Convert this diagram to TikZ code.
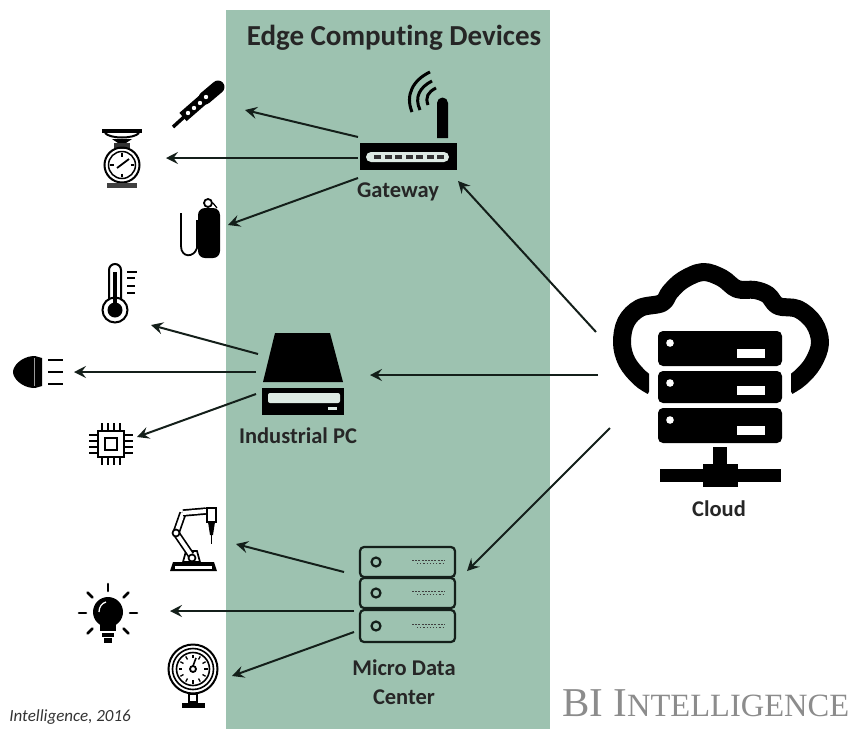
\documentclass[tikz,border=0pt]{standalone}
\usepackage{fontspec}
\setmainfont[Ligatures=NoCommon]{Carlito}
\newfontfamily\biserif{Liberation Serif}
\usetikzlibrary{arrows.meta}
\definecolor{panelgreen}{HTML}{9DC2B0}
\definecolor{inkdark}{HTML}{141F1A}
\definecolor{bigray}{HTML}{8C8C8C}
\tikzset{
  conn/.style={draw=inkdark,line width=2pt,-{Stealth[length=12pt,width=12pt,inset=4.5pt]}},
  lab/.style={font=\fontsize{22.5}{24}\selectfont\bfseries,text=black!85,inner sep=0pt,align=center},
  blk/.style={fill=black,draw=none},
  wht/.style={fill=white,draw=none},
  pale/.style={fill=panelgreen!35!white,draw=none},
  hollow/.style={draw=black,line width=1.7pt,double=white,double distance=4pt},
  bar/.style={draw=black,line width=2.6pt}
}
\begin{document}
\begin{tikzpicture}[x=1pt,y=-1pt]
\useasboundingbox (0,0) rectangle (854,729);
\fill[panelgreen] (226,10) rectangle (550,729);
\node[lab,font=\fontsize{29}{30}\selectfont\bfseries] (title) at (394,38) {Edge Computing Devices};

% ---- gateway
\fill[blk] (437,138) -- (437,103) arc[start angle=180,end angle=360,radius=5.5] -- (448,138) -- cycle;
\fill[blk] (360,143) rectangle (457,170);
\fill[pale,rounded corners=5pt] (366,152) rectangle (449,162);
\foreach \i in {0,...,6} \fill[black!80] (374+\i*10.5,155) rectangle ++(7,4);
\draw[line width=3pt] (412,112) .. controls (405,95) and (413,80) .. (430,72);
\draw[line width=3pt] (420,110) .. controls (414,97) and (420,87) .. (432,81);
\draw[line width=3pt] (428,105) .. controls (425,97) and (428,92) .. (436,88);
\node[lab] (gateway) at (398,192) {Gateway};

% ---- industrial pc
\fill[blk] (275,333) -- (330,333) -- (343,382) -- (263,382) -- cycle;
\fill[blk] (262,388) rectangle (344,415);
\fill[pale,rounded corners=2pt] (268,393) rectangle (340,403);
\fill[pale] (328,407) rectangle (337,410);
\node[lab] (ipc) at (298,436) {Industrial PC};

% ---- micro data center
\foreach \t/\b in {547/577,578/608,610/642}{
  \draw[line width=2.2pt,draw=inkdark,rounded corners=4pt] (360,\t) rectangle (455,\b);
  \draw[line width=2.2pt,draw=inkdark] (376,{(\t+\b)/2}) circle[radius=4.5];
  \draw[line width=1pt,draw=black!75,dash pattern=on 2pt off 1.2pt] (412,{(\t+\b)/2-1.5}) -- (445,{(\t+\b)/2-1.5});
  \draw[line width=1pt,draw=black!75,dash pattern=on 1.2pt off 2pt] (417,{(\t+\b)/2+1}) -- (445,{(\t+\b)/2+1});
}
\node[lab] (mdc) at (404,682) {Micro Data\\[5pt]Center};

% ---- cloud
\begin{scope}
\clip (0,0) rectangle (854,340) (0,340) rectangle (649,400) (791,340) rectangle (854,400);
\draw[line width=18pt,line join=round] plot[smooth,tension=0.6] coordinates {(652,386) (640,378) (627,362) (622,343) (626,322) (640,308) (662,303) (670,292) (683,280) (703,272) (722,278) (737,289) (755,290) (768,295) (778,306) (798,309) (814,323) (820,343) (813,363) (800,378) (788,386)};
\end{scope}
\foreach \t/\b in {331/366,371/403,408/443}{
  \fill[blk,rounded corners=5pt] (658,\t) rectangle (782,\b);
  \fill[wht] (670,\t+12) circle[radius=3.8];
  \fill[wht] (737,\b-17) rectangle (765,\b-8);
}
\fill[blk] (713,447) rectangle (727,467);
\fill[blk] (660,469) rectangle (781,482);
\fill[blk] (703,464) rectangle (738,487);
\node[lab] (cloud) at (719,509) {Cloud};

% ---- pen
\draw[line width=3.5pt] (173,127) -- (184,117);
\draw[line width=11pt] (183,117) -- (206,97);
\draw[line width=13pt,line cap=round] (205,98) -- (218,87);
\foreach \x/\y in {188/113,194/108,200/103,206/97} \fill[white] (\x,\y) circle[radius=2.2];

% ---- scale
\fill[blk] (102,129) rectangle (142,132.5);
\draw[line width=2pt] (105,133) .. controls (110,139) and (134,139) .. (139,133);
\fill[blk] (112,139) -- (132,139) -- (126,143) -- (118,143) -- cycle;
\fill[black!80] (114,143) rectangle (130,149);
\draw[line width=2pt] (122,165) circle[radius=17.5];
\draw[line width=1.5pt] (122,165) circle[radius=13.5];
\draw[line width=1.8pt] (117,168) -- (129,159);
\foreach \a in {0,90,180,270} \draw[line width=1.5pt] (122,165)+(\a:8.5) -- +(\a:12);
\fill[black!75] (107,183) rectangle (137,188);

% ---- tank
\fill[blk,rounded corners=7pt] (198,208) rectangle (220,258);
\draw[line width=1.8pt] (208,203) circle[radius=4];
\draw[line width=1.8pt] (181,213) -- (181,246) .. controls (181,258) and (194,258) .. (197,248) -- (197,220);
\draw[line width=1.2pt] (213,203) -- (217,208);

% ---- thermometer
\draw[line width=2pt] (109,300) -- (109,270) arc[start angle=180,end angle=360,radius=6] -- (121,300);
\draw[line width=2pt] (115,310) circle[radius=12.5];
\fill[blk] (115,310) circle[radius=7.5];
\fill[blk] (113,272) rectangle (117,305);
\foreach \y/\e in {272/137,278/135,286/135,293/135} \draw[line width=2.2pt] (127,\y) -- (\e,\y);

% ---- indicator lamp
\fill[blk] (33,356) .. controls (21,357) and (13,366) .. (13,372) .. controls (13,378) and (21,387) .. (33,388) -- cycle;
\fill[blk] (35,356) -- (42,358) -- (42,386) -- (35,388) -- cycle;
\fill[blk] (33,356) rectangle (35,388);
\draw[black!40,line width=0.7pt] (34,358) -- (34,386);
\foreach \y in {360,372,384} \draw[bar] (48,\y) -- (63,\y);

% ---- chip
\draw[line width=2.4pt] (98,431) rectangle (124,457);
\draw[line width=2.8pt] (105,438) rectangle (117,450);
\foreach \d in {-9,-3,3,9}{
  \draw[line width=1.7pt] (111+\d,423) -- (111+\d,430);
  \draw[line width=1.7pt] (111+\d,458) -- (111+\d,465);
  \draw[line width=1.7pt] (89,444+\d) -- (97,444+\d);
  \draw[line width=1.7pt] (125,444+\d) -- (133,444+\d);
}

% ---- robot
\fill[blk] (170,571) -- (173,562) -- (214,562) -- (217,571) -- cycle;
\fill[wht] (175,565.5) rectangle (212,568.5);
\draw[line width=1.7pt,fill=white] (183,562) -- (186,551) -- (197,551) -- (200,562) -- cycle;
\draw[hollow] (191,555) -- (176,533);
\draw[hollow] (176,533) -- (183,513);
\draw[hollow] (183,513) -- (206,511);
\draw[line width=1.7pt,fill=white] (207,508) rectangle (216,522);
\fill[blk] (208,522) -- (215,522) -- (213,535) -- (210,535) -- cycle;
\draw[line width=1.6pt] (211.5,535) -- (211.5,544);
\draw[line width=1.7pt,fill=white] (176,533) circle[radius=3.5];
\draw[line width=1.7pt,fill=white] (192,558) circle[radius=3.5];

% ---- bulb
\fill[blk] (108,612) circle[radius=15];
\fill[blk] (100,620) rectangle (116,631);
\fill[blk] (102,633) rectangle (114,637);
\fill[blk] (104,638) rectangle (112,643);
\draw[white,line width=1.3pt] (99,612) .. controls (99,607) and (102,603) .. (106,602);
\foreach \a in {180,225,270,315,0,45,135} \draw[bar,line cap=round] (108,613)+(\a:22) -- +(\a:29);

% ---- gauge
\draw[line width=2pt] (193,669) circle[radius=24.5];
\draw[line width=1.6pt] (193,669) circle[radius=20.5];
\draw[line width=1.6pt] (193,669) circle[radius=16.5];
\foreach \a in {0,30,...,330} \draw[line width=1.3pt] (193,669)+(\a:11) -- +(\a:14.5);
\draw[line width=1.8pt] (193,669) circle[radius=3];
\draw[line width=1.6pt] (193,666) -- (196,658);
\draw[line width=1.6pt] (189,694) rectangle (197,702);
\fill[blk] (182,703) rectangle (205,708);

% ---- captions
\node[anchor=east,inner sep=0pt,font=\fontsize{17}{18}\selectfont\itshape,text=black!80] (src) at (131,717) {Intelligence, 2016};
\node[anchor=west,inner sep=0pt,text=bigray,font=\biserif\fontsize{41}{44}\selectfont] (bi) at (562,703) {BI I{\fontsize{32.5}{36}\selectfont NTELLIGENCE}};

% ---- connector ends
\coordinate (gwa) at (358,137); \coordinate (pen) at (245,110);
\coordinate (gwb) at (358,158); \coordinate (scale) at (166,158);
\coordinate (gwc) at (358,178); \coordinate (tank) at (228,225);
\coordinate (pca) at (258,354); \coordinate (therm) at (151,325);
\coordinate (pcb) at (256,372); \coordinate (lamp) at (74,372);
\coordinate (pcc) at (256,394); \coordinate (chip) at (137,437);
\coordinate (mda) at (344,572); \coordinate (robot) at (236,544);
\coordinate (mdb) at (354,611); \coordinate (bulb) at (170,611);
\coordinate (mdc1) at (354,632); \coordinate (gauge) at (232,676);
\coordinate (cla) at (596,332); \coordinate (gwin) at (458,181);
\coordinate (clb) at (598,375); \coordinate (pcin) at (370,375);
\coordinate (clc) at (610,428); \coordinate (mdin) at (467,571);
\foreach \s/\e in {gwa/pen,gwb/scale,gwc/tank,pca/therm,pcb/lamp,pcc/chip,mda/robot,mdb/bulb,mdc1/gauge,cla/gwin,clb/pcin,clc/mdin}
  \draw[conn] (\s) -- (\e);
\end{tikzpicture}
\end{document}
